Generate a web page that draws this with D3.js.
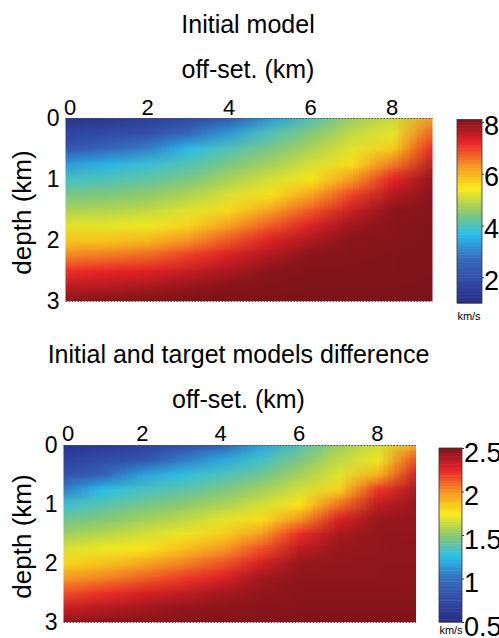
<!DOCTYPE html>
<html>
<head>
<meta charset="utf-8">
<script src="https://cdn.jsdelivr.net/npm/d3@7"></script>
<style>
    body { margin: 0; background: #fff; }
    svg { display: block; font-family: "Liberation Sans", Arial, sans-serif; }
</style>
</head>
<body>
<svg id="chart" width="499" height="638"></svg>
<script>
'use strict';

// grid the models were read on (km)
const offsets = [0, 1, 2, 3, 4, 5, 6, 7, 8, 9];
const depths = [0, 0.25, 0.5, 0.75, 1, 1.25, 1.5, 1.75, 2, 2.25, 2.5, 2.75, 3];

const offset_ticks = [0, 2, 4, 6, 8];
const depth_ticks = [0, 1, 2, 3];
const initial_ticks = [2, 4, 6, 8];
const difference_ticks = [0.5, 1, 1.5, 2, 2.5];

// velocity (km/s), one column per offset, top to bottom in depth
const initial_model = [
    [1.27, 1.73, 2.2, 3.25, 3.93, 4.37, 4.8, 5.24, 5.81, 6.46, 7.12, 7.58, 7.99],
    [1.38, 1.9, 2.58, 3.55, 4.03, 4.44, 4.86, 5.27, 5.85, 6.54, 7.23, 7.65, 8.05],
    [1.55, 2.04, 2.96, 3.81, 4.19, 4.58, 4.97, 5.36, 5.98, 6.68, 7.31, 7.74, 8.1],
    [1.87, 2.62, 3.67, 4.05, 4.43, 4.82, 5.21, 5.7, 6.35, 7.02, 7.5, 7.91, 8.1],
    [2.31, 3.29, 4.05, 4.42, 4.8, 5.17, 5.63, 6.23, 6.84, 7.37, 7.75, 8.02, 8.1],
    [3.24, 4.04, 4.41, 4.77, 5.14, 5.56, 6.17, 6.79, 7.34, 7.72, 8.0, 8.06, 8.1],
    [4.06, 4.5, 4.82, 5.15, 5.51, 6.16, 6.79, 7.35, 7.74, 8.0, 8.05, 8.08, 8.1],
    [4.71, 4.98, 5.24, 5.6, 6.28, 6.95, 7.46, 7.84, 8.0, 8.03, 8.06, 8.08, 8.1],
    [5.04, 5.29, 5.77, 6.55, 7.27, 7.66, 7.99, 8.01, 8.03, 8.05, 8.06, 8.08, 8.1],
    [6.24, 6.74, 7.23, 7.58, 7.93, 8.0, 8.02, 8.05, 8.06, 8.07, 8.08, 8.09, 8.1]
];

const model_difference = [
    [0.58, 0.69, 0.81, 1.05, 1.3, 1.43, 1.55, 1.68, 1.82, 1.99, 2.16, 2.32, 2.46],
    [0.62, 0.77, 0.92, 1.25, 1.37, 1.48, 1.6, 1.72, 1.87, 2.04, 2.22, 2.37, 2.47],
    [0.68, 0.82, 1.16, 1.33, 1.44, 1.55, 1.66, 1.77, 1.95, 2.12, 2.29, 2.41, 2.48],
    [0.78, 1.04, 1.27, 1.38, 1.5, 1.61, 1.72, 1.87, 2.04, 2.2, 2.34, 2.45, 2.48],
    [0.9, 1.18, 1.34, 1.46, 1.57, 1.69, 1.83, 1.98, 2.14, 2.28, 2.41, 2.46, 2.49],
    [1.16, 1.32, 1.43, 1.55, 1.66, 1.79, 1.97, 2.15, 2.3, 2.42, 2.45, 2.47, 2.49],
    [1.36, 1.46, 1.56, 1.66, 1.77, 2.0, 2.23, 2.35, 2.44, 2.46, 2.47, 2.48, 2.49],
    [1.54, 1.62, 1.69, 1.82, 2.08, 2.29, 2.4, 2.44, 2.45, 2.46, 2.47, 2.48, 2.49],
    [1.66, 1.72, 1.92, 2.21, 2.35, 2.44, 2.45, 2.45, 2.46, 2.46, 2.47, 2.48, 2.49],
    [1.94, 2.17, 2.31, 2.4, 2.44, 2.45, 2.45, 2.46, 2.46, 2.47, 2.47, 2.48, 2.49]
];

// washed-out jet colormap, as printed
const jet_stops = [0, 0.125, 0.25, 0.375, 0.5, 0.625, 0.75, 0.875, 1];
const jet_colors = ['#272b84', '#324ba5', '#376ebe', '#28beeb', '#8cc86e',
                    '#faeb19', '#f59623', '#eb2328', '#7d1419'];

const svg = d3.select('#chart');

function jetScale(domain) {
    const span = domain[1] - domain[0];
    return d3.scaleLinear()
        .domain(jet_stops.map(t => domain[0] + t * span))
        .range(jet_colors)
        .clamp(true);
}

function fieldImage(columns, color) {
    const canvas = document.createElement('canvas');
    canvas.width = columns.length;
    canvas.height = columns[0].length;
    const ctx = canvas.getContext('2d');
    const img = ctx.createImageData(canvas.width, canvas.height);

    columns.forEach((col, i) => col.forEach((v, j) => {
        const c = d3.rgb(color(v));
        const k = (j * canvas.width + i) * 4;
        img.data[k] = c.r;
        img.data[k + 1] = c.g;
        img.data[k + 2] = c.b;
        img.data[k + 3] = 255;
    }));
    ctx.putImageData(img, 0, 0);
    return canvas.toDataURL();
}

function styleAxis(g, size) {
    g.select('.domain').remove();
    g.selectAll('text')
        .attr('font-size', size)
        .attr('font-family', '"Liberation Sans", Arial, sans-serif')
        .attr('fill', '#000');
}

function drawPanel(p) {
    const x = d3.scaleLinear().domain([0, 9]).range([p.left, p.right]);
    const y = d3.scaleLinear().domain([0, 3]).range([p.top, p.bottom]);
    const color = jetScale(p.domain);

    svg.append('text')
        .attr('x', p.center)
        .attr('y', p.title_y)
        .attr('text-anchor', 'middle')
        .attr('font-size', 25)
        .text(p.title);

    svg.append('text')
        .attr('x', p.center)
        .attr('y', p.xlabel_y)
        .attr('text-anchor', 'middle')
        .attr('font-size', 25)
        .text('off-set. (km)');

    const clip_id = p.id + '-clip';
    svg.append('clipPath')
        .attr('id', clip_id)
        .append('rect')
            .attr('x', p.left)
            .attr('y', p.top)
            .attr('width', p.right - p.left)
            .attr('height', p.bottom - p.top);

    // half a grid step past each edge so samples sit on their grid nodes
    const dx = (offsets[1] - offsets[0]) / 2;
    const dz = (depths[1] - depths[0]) / 2;
    const x0 = x(offsets[0] - dx), x1 = x(offsets[offsets.length - 1] + dx);
    const y0 = y(depths[0] - dz), y1 = y(depths[depths.length - 1] + dz);

    svg.append('image')
        .attr('clip-path', `url(#${clip_id})`)
        .attr('x', x0)
        .attr('y', y0)
        .attr('width', x1 - x0)
        .attr('height', y1 - y0)
        .attr('preserveAspectRatio', 'none')
        .attr('href', fieldImage(p.values, color));

    // dotted frame edges top and bottom
    svg.append('g')
        .attr('stroke', '#555')
        .attr('stroke-width', 1)
        .attr('stroke-dasharray', '1.5,1.5')
        .selectAll('line')
        .data([0, 3])
        .join('line')
            .attr('x1', p.left)
            .attr('x2', p.right)
            .attr('y1', d => y(d) + 0.5)
            .attr('y2', d => y(d) + 0.5);

    svg.append('g')
        .attr('transform', `translate(0, ${p.top})`)
        .call(d3.axisTop(x).tickValues(offset_ticks).tickSize(0).tickPadding(p.xtick_pad))
        .call(g => styleAxis(g, 22))
        .call(g => g.selectAll('text').filter(d => d === 0).attr('dx', 4));

    svg.append('g')
        .attr('transform', `translate(${p.left}, 0)`)
        .call(d3.axisLeft(y).tickValues(depth_ticks).tickSize(0).tickPadding(6)
            .tickFormat(d3.format('d')))
        .call(g => styleAxis(g, 23));

    svg.append('text')
        .attr('transform', `translate(31, ${(p.top + p.bottom) / 2 + 3}) rotate(-90)`)
        .attr('text-anchor', 'middle')
        .attr('font-size', 26)
        .text('depth (km)');

    // colorbar
    const cb = p.bar;
    const c = d3.scaleLinear().domain(p.domain).range([cb.bottom, cb.top]);
    const levels = 64;
    const step = (p.domain[1] - p.domain[0]) / levels;

    svg.append('g')
        .selectAll('rect')
        .data(d3.range(levels))
        .join('rect')
            .attr('x', cb.left)
            .attr('y', i => c(p.domain[0] + (i + 1) * step))
            .attr('width', cb.right - cb.left)
            .attr('height', i => c(p.domain[0] + i * step) - c(p.domain[0] + (i + 1) * step) + 0.5)
            .attr('fill', i => color(p.domain[0] + (i + 0.5) * step));

    svg.append('rect')
        .attr('x', cb.left)
        .attr('y', cb.top)
        .attr('width', cb.right - cb.left)
        .attr('height', cb.bottom - cb.top)
        .attr('fill', 'none')
        .attr('stroke', '#333')
        .attr('stroke-width', 0.8);

    svg.append('g')
        .attr('transform', `translate(${cb.right}, 0)`)
        .call(d3.axisRight(c).tickValues(p.ticks).tickSize(2).tickPadding(0)
            .tickFormat(d3.format('~g')))
        .call(g => styleAxis(g, 27))
        .call(g => g.selectAll('text').attr('dy', `${p.bar_dy}px`))
        .call(g => g.selectAll('line').attr('stroke', '#333'));

    svg.append('text')
        .attr('x', p.unit_x)
        .attr('y', p.unit_y)
        .attr('text-anchor', 'middle')
        .attr('font-size', 11)
        .text('km/s');
}

drawPanel({
    id: 'initial',
    title: 'Initial model',
    values: initial_model,
    domain: [1, 8.1],
    ticks: initial_ticks,
    center: 248, title_y: 33, xlabel_y: 78, xtick_pad: 3,
    left: 65.5, right: 432.5, top: 118, bottom: 301,
    bar: { left: 457, right: 482, top: 119.5, bottom: 303 },
    bar_dy: 12,
    unit_x: 469, unit_y: 320
});

drawPanel({
    id: 'difference',
    title: 'Initial and target models difference',
    values: model_difference,
    domain: [0.5, 2.5],
    ticks: difference_ticks,
    center: 238.5, title_y: 363, xlabel_y: 408, xtick_pad: 4,
    left: 63.5, right: 416, top: 445, bottom: 622,
    bar: { left: 439, right: 462, top: 448, bottom: 622 },
    bar_dy: 13,
    unit_x: 451, unit_y: 634
});
</script>
</body>
</html>
